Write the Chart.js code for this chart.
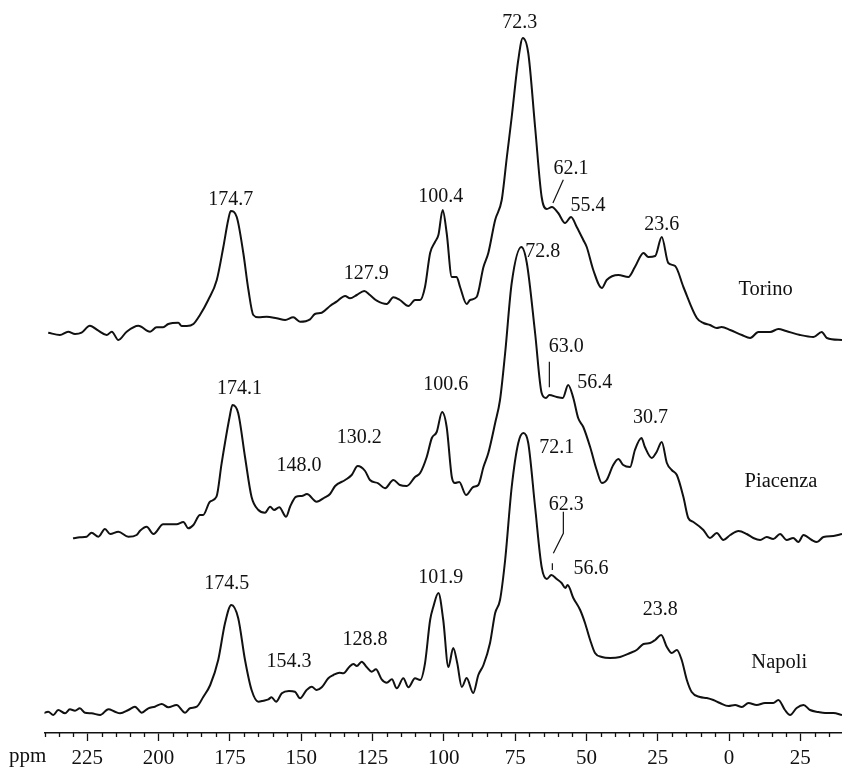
<!DOCTYPE html>
<html>
<head>
<meta charset="utf-8">
<title>13C CPMAS spectra</title>
<script src="https://cdn.jsdelivr.net/npm/chart.js@4.4.1/dist/chart.umd.min.js"></script>
<style>
  html, body { margin: 0; padding: 0; background: #ffffff; }
  canvas { display: block; }
</style>
</head>
<body>
<canvas id="spectra" width="842" height="767"></canvas>
<script>
// Chemical shift (ppm) and relative intensity pairs for each sample
const torino = [
  [238.7,7.3],[234.6,5],[231.7,8.3],[229.3,6],[227.0,7.3],[224.1,14.3],[221.1,9.3],[218.2,5],[216.4,8.3],[214.1,0],
  [211.2,8.3],[207.1,14.3],[203.0,8.3],[200.7,12.7],[198.4,12.7],[196.6,16],[193.1,17.3],[191.9,14],[190.1,14],[187.8,16],
  [185.5,25],[182.6,40],[179.6,60],[177.3,93],[175.6,120],[174.7,129],[172.6,123],[170.3,87],[168.5,50],[166.8,25],
  [165.0,22.7],[162.1,23.3],[158.6,21.7],[155.6,20],[152.8,22.7],[150.4,18.3],[146.9,20.7],[145.2,26],[142.8,27.3],[139.9,34],
  [137.6,38.3],[134.6,44],[132.9,41.7],[130.5,45],[127.9,49],[125.9,45],[123.5,39.3],[120.0,36],[117.7,42.7],[115.4,40],
  [112.4,34],[110.1,40],[108.3,40],[106.6,53],[104.8,87],[103.1,98],[101.9,105],[100.4,130],[99.0,107],[97.2,63],
  [95.5,63],[94.3,53],[92.0,36],[90.8,40],[88.5,43],[86.1,73],[84.4,87],[82.0,120],[79.7,140],[77.9,183],
  [76.2,223],[73.9,280],[72.3,302],[70.4,287],[68.0,213],[65.7,143],[63.9,131],[62.1,133],[59.9,127],[57.5,117],
  [55.4,123],[53.4,113],[51.1,100],[49.9,93],[47.6,70],[44.6,52],[42.9,60],[38.8,65],[35.3,63],[33.0,73],
  [30.0,87],[28.3,83],[25.9,84],[23.6,103],[21.3,77],[18.9,74],[16.0,53],[11.3,22],[9.0,17],[6.7,15],
  [4.3,12],[2.6,13],[-0.4,10],[-4.5,5],[-7.4,2],[-10.3,8],[-14.4,8],[-17.3,11],[-20.0,9],[-24.9,5],
  [-29.6,3],[-32.5,8],[-34.3,2],[-39.6,0]
];

const piacenza = [
  [230.0,1.7],[227.6,2.7],[225.2,3.3],[223.5,7.3],[221.1,3.3],[218.8,11],[217.0,6],[214.1,8.3],[210.6,3.3],[207.7,5],
  [206.5,9.3],[204.2,13.3],[201.8,6],[198.4,15.7],[193.7,15.7],[191.3,18],[189.6,11.7],[187.8,15],[185.5,25],[184.4,25],
  [182.0,38.3],[179.7,43.3],[177.9,76.7],[175.1,123],[174.1,135],[172.1,127],[169.7,83],[167.4,43],[165.0,30],[162.7,27.3],
  [160.9,33.3],[159.5,30],[157.7,32.7],[155.3,23.3],[153.9,33.3],[151.8,43.3],[149.8,44],[148.0,46],[144.6,38.3],[141.7,42.7],
  [139.9,46],[138.1,54],[134.6,60],[132.3,65],[130.2,74],[127.6,69],[125.9,60],[123.0,56.7],[120.6,51.7],[117.7,60],
  [115.4,55],[113.0,54],[110.1,63],[108.3,67],[106.0,83],[104.2,102],[102.5,108],[100.6,128],[99.0,113],[97.2,63],
  [96.1,57],[94.6,58],[92.2,45],[89.7,53],[87.9,55],[86.1,73],[84.4,87],[82.0,117],[80.3,140],[78.5,187],
  [76.2,257],[72.8,293],[70.9,277],[68.0,207],[65.7,147],[64.2,142],[63.0,145],[60.4,143],[58.3,142],[56.4,155],
  [54.6,142],[52.9,122],[51.1,113],[48.7,93],[46.4,70],[44.6,57],[42.9,60],[40.6,75],[38.8,81],[37.1,75],
  [34.7,73],[33.0,90],[30.7,102],[29.5,93],[27.1,82],[25.4,88],[23.6,98],[21.8,77],[20.1,70],[18.3,65],
  [16.0,43],[14.3,22],[12.5,18],[9.0,10],[6.7,2],[4.3,7],[2.0,0],[-0.4,5],[-3.3,9],[-6.2,6],
  [-8.5,2],[-10.9,0],[-13.2,3],[-15.5,1],[-17.9,6],[-20.2,0],[-22.5,2],[-24.3,-2],[-26.1,5],[-29.0,0],
  [-30.8,-2],[-33.1,3],[-36.6,4],[-39.6,6]
];

const napoli = [
  [240.4,1.7],[238.7,3.3],[236.9,0],[235.2,5],[232.8,1.7],[231.1,5.7],[229.3,4.3],[227.6,6.7],[225.8,2.3],[223.5,1.7],
  [220.5,0],[217.6,5.7],[215.3,3.3],[213.5,1.7],[210.6,5],[208.3,8.3],[205.9,2.3],[203.6,6.7],[201.3,8.3],[198.9,11],
  [196.6,7.7],[193.7,10],[190.7,2.3],[189.0,6.7],[186.6,8.3],[184.3,18.3],[181.9,30],[179.1,55],[176.7,92],[174.5,110],
  [172.1,97],[169.7,55],[167.4,25],[165.0,13.3],[163.3,14.3],[161.5,15.7],[160.4,17.7],[158.8,13.3],[156.8,21.7],[154.3,24],
  [152.2,23.3],[150.4,16.7],[148.1,25],[146.3,28.3],[144.6,25],[142.8,27.7],[140.5,36.7],[138.7,40],[136.6,42.3],[135.2,41.7],
  [133.1,48.3],[131.7,51],[130.5,49],[128.8,53.3],[127.0,47.7],[125.3,43.3],[123.8,45.7],[121.8,35.7],[120.0,32.3],[118.2,35.7],
  [116.5,26.7],[114.2,36.7],[112.4,27.7],[110.1,36.7],[108.3,35],[106.6,51.7],[104.8,95],[103.7,108],[101.9,122],[100.2,95],
  [98.4,48],[96.7,67],[95.3,52],[93.7,28],[92.0,37],[89.7,22],[87.9,40],[86.1,50],[83.8,72],[82.0,102],
  [80.3,115],[78.5,155],[76.2,228],[73.9,272],[72.1,282],[70.4,272],[68.0,208],[65.7,148],[63.9,136],[62.3,140],
  [60.4,136],[58.7,132],[57.4,127],[56.6,130],[54.6,117],[52.2,105],[50.5,92],[48.7,75],[47.0,62],[44.6,58],
  [41.7,57],[38.2,58],[34.7,62],[32.4,65],[30.0,71],[27.7,72],[25.9,75],[23.8,80],[21.8,68],[20.1,62],
  [18.3,65],[16.6,55],[14.8,35],[13.1,23],[10.2,18],[7.8,17],[5.5,15],[3.2,12],[0.2,9],[-2.1,10],
  [-4.5,8],[-6.8,12],[-9.7,10],[-12.6,12],[-15.5,12],[-17.3,15],[-19.6,5],[-21.4,0],[-23.7,7],[-26.1,10],
  [-28.4,5],[-31.3,3],[-33.7,2],[-36.6,2],[-39.6,0]
];

const SAMPLES = ['Torino', 'Piacenza', 'Napoli'];

// Assigned peaks (ppm) for each sample
const TORINO_PEAKS = [174.7, 127.9, 100.4, 72.3, 62.1, 55.4, 23.6];
const PIACENZA_PEAKS = [174.1, 148.0, 130.2, 100.6, 72.8, 63.0, 56.4, 30.7];
const NAPOLI_PEAKS = [174.5, 154.3, 128.8, 101.9, 72.1, 62.3, 56.6, 23.8];

// Labelled ticks of the shift axis (ppm)
const TICK_LABELS = [225, 200, 175, 150, 125, 100, 75, 50, 25, 0, -25];
const MINOR_STEP = 5;

// ---- layout ----
const FONT = '"Liberation Serif", "Times New Roman", Times, serif';
const INK = '#111111';
const X_MIN = -39.6, X_MAX = 240;
const AXIS_BOTTOM = 733;           // y-axis span equals the plot height in px
const STACK = [393, 193, 18];      // vertical offset of each trace
const NAME_POS = [[-12.8, 45], [-18.2, 52.7], [-17.6, 46.7]];

// label offsets (px) from each peak top, with optional leader lines
const TORINO_LAYOUT = [
  {dx: 0, dy: -6}, {dx: 2, dy: -12}, {dx: -2, dy: -8}, {dx: -3, dy: -10},
  {dx: 19, dy: -33, leader: [[[1, -4], [11.4, -27.3]]]},
  {dx: 17, dy: -6}, {dx: 0, dy: -7}
];
const PIACENZA_LAYOUT = [
  {dx: 7, dy: -11}, {dx: -8, dy: -23}, {dx: 1.5, dy: -23}, {dx: 3.7, dy: -21.7},
  {dx: 21.4, dy: 10},
  {dx: 17, dy: -43.3, leader: [[[0, -7.7], [0, -33.3]]]},
  {dx: 26.6, dy: 3.3}, {dx: 9, dy: -15}
];
const NAPOLI_LAYOUT = [
  {dx: -4.6, dy: -15.7}, {dx: 0, dy: -23.7}, {dx: 3.3, dy: -16.7}, {dx: 2.4, dy: -10},
  {dx: 33.4, dy: 20},
  {dx: 15, dy: -65, leader: [[[12, -63.3], [12, -41.7], [2, -21.7]], [[1, -11.7], [1, -5]]]},
  {dx: 23.4, dy: -11}, {dx: -1, dy: -20}
];

const traces = [
  {name: SAMPLES[0], data: torino, peaks: TORINO_PEAKS, layout: TORINO_LAYOUT},
  {name: SAMPLES[1], data: piacenza, peaks: PIACENZA_PEAKS, layout: PIACENZA_LAYOUT},
  {name: SAMPLES[2], data: napoli, peaks: NAPOLI_PEAKS, layout: NAPOLI_LAYOUT}
];

// peak labels, sample names, minor ticks and the unit label
const annotations = {
  id: 'annotations',
  afterDraw(chart) {
    const {ctx, scales: {x, y}} = chart;
    ctx.save();
    ctx.fillStyle = INK;
    ctx.strokeStyle = INK;
    ctx.lineWidth = 1.2;
    ctx.font = '20px ' + FONT;
    ctx.textAlign = 'center';
    ctx.textBaseline = 'alphabetic';

    traces.forEach((tr, i) => {
      tr.peaks.forEach((ppm, k) => {
        const pt = tr.data.find(p => p[0] === ppm);
        const px = x.getPixelForValue(ppm);
        const py = y.getPixelForValue(STACK[i] + pt[1]);
        const lay = tr.layout[k];
        ctx.fillText(ppm.toFixed(1), px + lay.dx, py + lay.dy);
        (lay.leader || []).forEach(line => {
          ctx.beginPath();
          line.forEach(([a, b], j) => j ? ctx.lineTo(px + a, py + b) : ctx.moveTo(px + a, py + b));
          ctx.stroke();
        });
      });
      const [np, nv] = NAME_POS[i];
      ctx.font = '20.5px ' + FONT;
      ctx.fillText(tr.name, x.getPixelForValue(np), y.getPixelForValue(STACK[i] + nv));
      ctx.font = '20px ' + FONT;
    });

    // minor ticks between the labelled ones
    const top = x.top;
    ctx.lineWidth = 1.3;
    for (let v = X_MAX; v > X_MIN; v -= MINOR_STEP) {
      if (TICK_LABELS.includes(v)) continue;
      const px = Math.round(x.getPixelForValue(v)) + 0.5;
      ctx.beginPath();
      ctx.moveTo(px, top);
      ctx.lineTo(px, top + 4);
      ctx.stroke();
    }

    ctx.font = '21px ' + FONT;
    ctx.textAlign = 'left';
    ctx.fillText('ppm', 9, 762);
    ctx.restore();
  }
};

const datasets = traces.map((tr, i) => ({
  label: tr.name,
  data: tr.data.map(([ppm, v]) => ({x: ppm, y: STACK[i] + v})),
  borderColor: INK,
  borderWidth: 2,
  pointRadius: 0,
  fill: false,
  cubicInterpolationMode: 'monotone'
}));

new Chart(document.getElementById('spectra'), {
  type: 'line',
  data: {datasets},
  options: {
    responsive: false,
    animation: false,
    layout: {padding: {left: 44.5, right: 0, top: 0, bottom: 0}},
    plugins: {legend: {display: false}, tooltip: {enabled: false}},
    scales: {
      x: {
        type: 'linear',
        reverse: true,
        min: X_MIN,
        max: X_MAX,
        afterBuildTicks: scale => { scale.ticks = TICK_LABELS.map(v => ({value: v})); },
        afterFit: scale => { scale.height = 767 - AXIS_BOTTOM; },
        ticks: {
          autoSkip: false,
          maxRotation: 0,
          minRotation: 0,
          padding: 5,
          color: INK,
          font: {family: FONT, size: 21},
          callback: v => String(Math.abs(v))
        },
        grid: {
          display: true,
          drawOnChartArea: false,
          drawTicks: true,
          tickLength: 8,
          tickWidth: 1.3,
          tickColor: INK,
          color: INK
        },
        border: {display: true, color: INK, width: 1.5}
      },
      y: {display: false, min: 0, max: AXIS_BOTTOM}
    }
  },
  plugins: [annotations]
});
</script>
</body>
</html>
